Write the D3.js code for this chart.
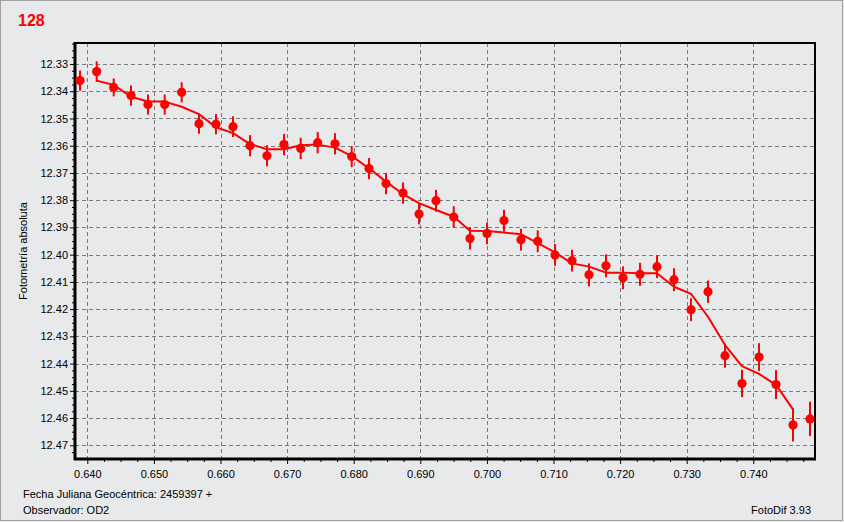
<!DOCTYPE html>
<html>
<head>
<meta charset="utf-8">
<script src="https://cdn.jsdelivr.net/npm/d3@7"></script>
<style>
  html, body { margin: 0; padding: 0; background: #e8e9eb; }
  svg { display: block; }
  text { font-family: "Liberation Sans", Arial, sans-serif; }
</style>
</head>
<body>
<svg id="chart" width="844" height="522"></svg>
<script>
// ---- data ----
const title = "128";
const jd = [0.63890, 0.64141, 0.64396, 0.64656, 0.64911, 0.65162, 0.65417, 0.65677, 0.65932, 0.66188,
            0.66443, 0.66698, 0.66953, 0.67204, 0.67459, 0.67719, 0.67970, 0.68230, 0.68485, 0.68740,
            0.68981, 0.69236, 0.69502, 0.69746, 0.70002, 0.70257, 0.70512, 0.70763, 0.71023, 0.71278,
            0.71533, 0.71788, 0.72044, 0.72299, 0.72554, 0.72809, 0.73065, 0.73320, 0.73575, 0.73830,
            0.74086, 0.74341, 0.74596, 0.74851];
const mag = [12.3361, 12.3328, 12.3386, 12.3416, 12.3449, 12.3449, 12.3404, 12.3519, 12.3521, 12.3530,
             12.3600, 12.3637, 12.3596, 12.3610, 12.3589, 12.3593, 12.3640, 12.3684, 12.3739, 12.3774,
             12.3851, 12.3802, 12.3862, 12.3941, 12.3922, 12.3875, 12.3945, 12.3951, 12.4001, 12.4022,
             12.4074, 12.4041, 12.4085, 12.4072, 12.4044, 12.4092, 12.4202, 12.4136, 12.4371, 12.4473,
             12.4376, 12.4477, 12.4625, 12.4603];
const err = [0.0037, 0.0038, 0.0033, 0.0037, 0.0037, 0.0037, 0.0037, 0.0037, 0.0037, 0.0038,
             0.0039, 0.0039, 0.0039, 0.0039, 0.0039, 0.0039, 0.0039, 0.0039, 0.0039, 0.0039,
             0.0038, 0.0040, 0.0040, 0.0040, 0.0040, 0.0040, 0.0040, 0.0040, 0.0040, 0.0040,
             0.0042, 0.0042, 0.0042, 0.0042, 0.0042, 0.0042, 0.0042, 0.0041, 0.0044, 0.0050,
             0.0051, 0.0053, 0.0061, 0.0063];
const fit = [null, 12.3361, 12.3377, 12.3420, 12.3438, 12.3438, 12.3457, 12.3484, 12.3532, 12.3554,
             12.3594, 12.3613, 12.3613, 12.3598, 12.3596, 12.3607, 12.3638, 12.3683, 12.3732, 12.3778,
             12.3811, 12.3836, 12.3861, 12.3912, 12.3913, 12.3919, 12.3925, 12.3958, 12.3992, 12.4032,
             12.4044, 12.4066, 12.4066, 12.4068, 12.4068, 12.4118, 12.4144, 12.4228, 12.4332, 12.4409,
             12.4438, 12.4478, 12.4568, null];
const xTicks = [0.640, 0.650, 0.660, 0.670, 0.680, 0.690, 0.700, 0.710, 0.720, 0.730, 0.740];
const yTicks = [12.33, 12.34, 12.35, 12.36, 12.37, 12.38, 12.39, 12.40, 12.41, 12.42, 12.43, 12.44, 12.45, 12.46, 12.47];
const xLabel = "Fecha Juliana Geocéntrica: 2459397 +";
const yLabel = "Fotometría absoluta";
const observer = "Observador: OD2";
const software = "FotoDif 3.93";

// ---- layout ----
const W = 844, H = 522;
const L = 75, R = 815, T = 43, B = 459;
const red = "#ff0000";

const svg = d3.select("#chart");

const x = d3.scaleLinear().domain([0.638153, 0.749264]).range([L, R]);
const y = d3.scaleLinear().domain([12.32229, 12.47503]).range([T, B]);

// outer border
svg.append("rect").attr("x", 0.5).attr("y", 0.5).attr("width", W - 2).attr("height", H - 2)
  .attr("fill", "#e8e9eb").attr("stroke", "#a0a0a0");

// title
svg.append("text").attr("x", 18).attr("y", 26).attr("fill", red)
  .attr("font-size", 16).attr("font-weight", "bold").text(title);

// grid
const grid = svg.append("g").attr("stroke", "#7a7a7a").attr("stroke-width", 1)
  .attr("stroke-dasharray", "4,3").attr("shape-rendering", "crispEdges");
grid.selectAll(".gx").data(xTicks).join("line")
  .attr("x1", d => Math.round(x(d)) + 0.5).attr("x2", d => Math.round(x(d)) + 0.5)
  .attr("y1", T).attr("y2", B);
grid.selectAll(".gy").data(yTicks).join("line")
  .attr("y1", d => Math.round(y(d)) + 0.5).attr("y2", d => Math.round(y(d)) + 0.5)
  .attr("x1", L).attr("x2", R);

// minor ticks
const xMinor = d3.range(0.6400, 0.7494, 0.0025).filter(v => Math.abs(v * 100 - Math.round(v * 100)) > 1e-6);
const yMinor = d3.range(12.3225, 12.4750, 0.0025).filter(v => Math.abs(v * 100 - Math.round(v * 100)) > 1e-6);
svg.append("g").attr("transform", `translate(0,${B})`)
  .call(d3.axisBottom(x).tickValues(xMinor).tickSize(3).tickFormat(""))
  .call(g => g.select(".domain").remove());
svg.append("g").attr("transform", `translate(${L},0)`)
  .call(d3.axisLeft(y).tickValues(yMinor).tickSize(3).tickFormat(""))
  .call(g => g.select(".domain").remove());

// major axes
const xAxis = svg.append("g").attr("transform", `translate(0,${B})`)
  .call(d3.axisBottom(x).tickValues(xTicks).tickSize(5).tickPadding(6).tickFormat(d3.format(".3f")))
  .call(g => g.select(".domain").remove());
xAxis.selectAll("text").attr("font-size", 11).attr("fill", "#000")
  .attr("font-family", "'Liberation Sans', Arial, sans-serif");

const yAxis = svg.append("g").attr("transform", `translate(${L},0)`)
  .call(d3.axisLeft(y).tickValues(yTicks).tickSize(5).tickPadding(2).tickFormat(d3.format(".2f")))
  .call(g => g.select(".domain").remove());
yAxis.selectAll("text").attr("font-size", 11).attr("fill", "#000")
  .attr("font-family", "'Liberation Sans', Arial, sans-serif");

// plot frame
svg.append("line").attr("x1", L).attr("x2", R + 1).attr("y1", T).attr("y2", T).attr("stroke", "#000").attr("stroke-width", 2);
svg.append("line").attr("x1", R).attr("x2", R).attr("y1", T).attr("y2", B).attr("stroke", "#000").attr("stroke-width", 2);
svg.append("line").attr("x1", L - 1).attr("x2", R + 1).attr("y1", B).attr("y2", B).attr("stroke", "#000").attr("stroke-width", 3);
svg.append("line").attr("x1", L).attr("x2", L).attr("y1", T - 1).attr("y2", B + 1).attr("stroke", "#000").attr("stroke-width", 3);

// data
const pts = jd.map((d, i) => ({ x: d, m: mag[i], e: err[i], f: fit[i] }));

// fitted curve
const line = d3.line().defined(d => d.f != null).x(d => x(d.x)).y(d => y(d.f));
svg.append("path").datum(pts).attr("d", line)
  .attr("fill", "none").attr("stroke", red).attr("stroke-width", 2).attr("stroke-linejoin", "round");

// error bars
svg.append("g").selectAll("line").data(pts).join("line")
  .attr("x1", d => x(d.x)).attr("x2", d => x(d.x))
  .attr("y1", d => y(d.m - d.e)).attr("y2", d => y(d.m + d.e))
  .attr("stroke", red).attr("stroke-width", 2);

// points
svg.append("g").selectAll("circle").data(pts).join("circle")
  .attr("cx", d => x(d.x)).attr("cy", d => y(d.m)).attr("r", 4.6).attr("fill", red);

// labels
svg.append("text").attr("transform", `translate(27,251) rotate(-90)`).attr("text-anchor", "middle")
  .attr("font-size", 11).attr("fill", "#000").text(yLabel);
svg.append("text").attr("x", 23).attr("y", 498).attr("font-size", 11).attr("fill", "#000").text(xLabel);
svg.append("text").attr("x", 23).attr("y", 514).attr("font-size", 11).attr("fill", "#000").text(observer);
svg.append("text").attr("x", 811).attr("y", 514).attr("text-anchor", "end").attr("font-size", 11).attr("fill", "#000").text(software);
</script>
</body>
</html>
